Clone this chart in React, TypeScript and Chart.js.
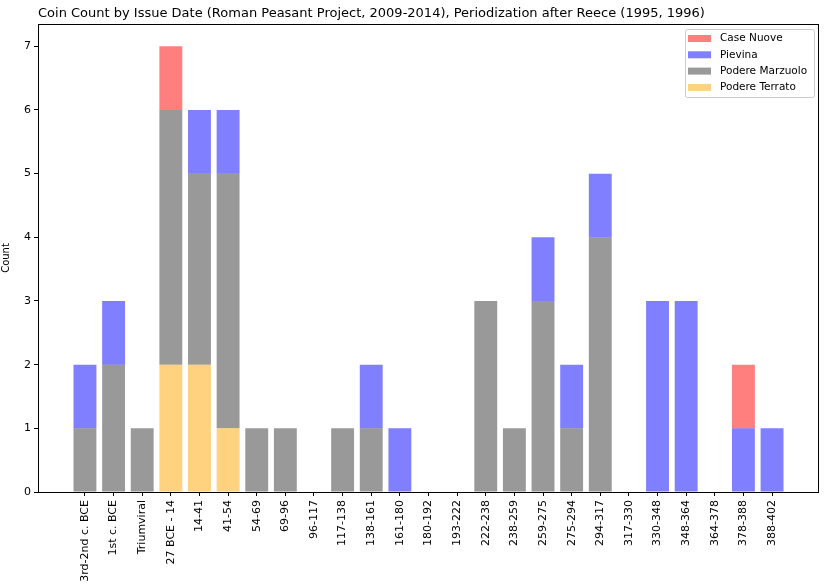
import { useEffect, useRef } from "react";
import { Chart, registerables } from "chart.js";

Chart.register(...registerables);

const periods = [
  "3rd-2nd c. BCE", "1st c. BCE", "Triumviral", "27 BCE - 14", "14-41", "41-54",
  "54-69", "69-96", "96-117", "117-138", "138-161", "161-180", "180-192",
  "193-222", "222-238", "238-259", "259-275", "275-294", "294-317", "317-330",
  "330-348", "348-364", "364-378", "378-388", "388-402",
];

// stacked bottom -> top
const podereTerrato = [0, 0, 0, 2, 2, 1, 0, 0, 0, 0, 0, 0, 0, 0, 0, 0, 0, 0, 0, 0, 0, 0, 0, 0, 0];
const podereMarzuolo = [1, 2, 1, 4, 3, 4, 1, 1, 0, 1, 1, 0, 0, 0, 3, 1, 3, 1, 4, 0, 0, 0, 0, 0, 0];
const pievina = [1, 1, 0, 0, 1, 1, 0, 0, 0, 0, 1, 1, 0, 0, 0, 0, 1, 1, 1, 0, 3, 3, 0, 1, 1];
const caseNuove = [0, 0, 0, 1, 0, 0, 0, 0, 0, 0, 0, 0, 0, 0, 0, 0, 0, 0, 0, 0, 0, 0, 0, 1, 0];

const yTicks = [0, 1, 2, 3, 4, 5, 6, 7];

const FONT = "'DejaVu Sans', sans-serif";
const TITLE = "Coin Count by Issue Date (Roman Peasant Project, 2009-2014), Periodization after Reece (1995, 1996)";

const frameAndLegend = {
  id: "frameAndLegend",
  afterDraw(chart: any) {
    const { ctx, chartArea } = chart;
    ctx.save();
    // spines
    ctx.strokeStyle = "#000";
    ctx.lineWidth = 1;
    ctx.strokeRect(chartArea.left + 0.5, chartArea.top + 0.5, chartArea.right - chartArea.left - 1, chartArea.bottom - chartArea.top);
    // title
    ctx.fillStyle = "#000";
    ctx.font = `13px ${FONT}`;
    ctx.textAlign = "left";
    ctx.textBaseline = "alphabetic";
    ctx.fillText(TITLE, chartArea.left, chartArea.top - 7);
    // legend (reverse dataset order, like matplotlib's)
    const items = [...chart.data.datasets].reverse();
    const x0 = chartArea.right - 134;
    const y0 = chartArea.top + 5;
    const w = 129;
    const h = 68;
    ctx.fillStyle = "rgba(255,255,255,0.8)";
    ctx.strokeStyle = "#cccccc";
    ctx.beginPath();
    ctx.roundRect(x0 + 0.5, y0 + 0.5, w, h, 2);
    ctx.fill();
    ctx.stroke();
    ctx.font = `10.5px ${FONT}`;
    ctx.textBaseline = "middle";
    items.forEach((ds: any, i: number) => {
      const cy = y0 + 9.5 + i * 16.3;
      ctx.fillStyle = ds.backgroundColor;
      ctx.fillRect(x0 + 3, cy - 3.5, 23, 7);
      ctx.fillStyle = "#000";
      ctx.fillText(ds.label, x0 + 35, cy);
    });
    ctx.restore();
  },
};

export default function App() {
  const canvasRef = useRef<HTMLCanvasElement | null>(null);

  useEffect(() => {
    if (!canvasRef.current) return;
    const toPoints = (vals: number[]) => vals.map((v, i) => ({ x: i, y: v }));
    const chart = new Chart(canvasRef.current, {
      type: "bar",
      data: {
        datasets: [
          { label: "Podere Terrato", data: toPoints(podereTerrato), backgroundColor: "rgba(255,165,0,0.5)" },
          { label: "Podere Marzuolo", data: toPoints(podereMarzuolo), backgroundColor: "rgba(0,0,0,0.4)" },
          { label: "Pievina", data: toPoints(pievina), backgroundColor: "rgba(0,0,255,0.5)" },
          { label: "Case Nuove", data: toPoints(caseNuove), backgroundColor: "rgba(255,0,0,0.5)" },
        ],
      },
      options: {
        animation: false,
        responsive: false,
        devicePixelRatio: 1,
        layout: { padding: { top: 24, right: 11, left: 0, bottom: 0 } },
        datasets: { bar: { categoryPercentage: 0.8, barPercentage: 1 } },
        plugins: { legend: { display: false }, title: { display: false }, tooltip: { enabled: false } },
        scales: {
          x: {
            type: "linear",
            stacked: true,
            offset: false,
            min: -1.64,
            max: 25.64,
            afterBuildTicks: (scale: any) => {
              scale.ticks = periods.map((_, i) => ({ value: i }));
            },
            afterFit: (scale: any) => {
              scale.height = 96;
            },
            grid: { offset: false, drawOnChartArea: false, tickLength: 4, color: "#000" },
            border: { display: false },
            ticks: {
              autoSkip: false,
              minRotation: 90,
              maxRotation: 90,
              padding: 4,
              color: "#000",
              font: { family: FONT, size: 11 },
              callback: (v: any) => periods[v as number] ?? "",
            },
          },
          y: {
            stacked: true,
            min: 0,
            max: 7.35,
            afterBuildTicks: (scale: any) => {
              scale.ticks = yTicks.map((v) => ({ value: v }));
            },
            afterFit: (scale: any) => {
              scale.width = 38;
            },
            grid: { drawOnChartArea: false, tickLength: 4, color: "#000" },
            border: { display: false },
            title: { display: true, text: "Count", color: "#000", font: { family: FONT, size: 10 }, padding: 0 },
            ticks: { color: "#000", padding: 3, font: { family: FONT, size: 11 } },
          },
        },
      },
      plugins: [frameAndLegend],
    });
    return () => chart.destroy();
  }, []);

  return (
    <div style={{ position: "absolute", left: 0, top: 0, width: 830, height: 588, background: "#fff" }}>
      <canvas ref={canvasRef} width={830} height={588} />
    </div>
  );
}
